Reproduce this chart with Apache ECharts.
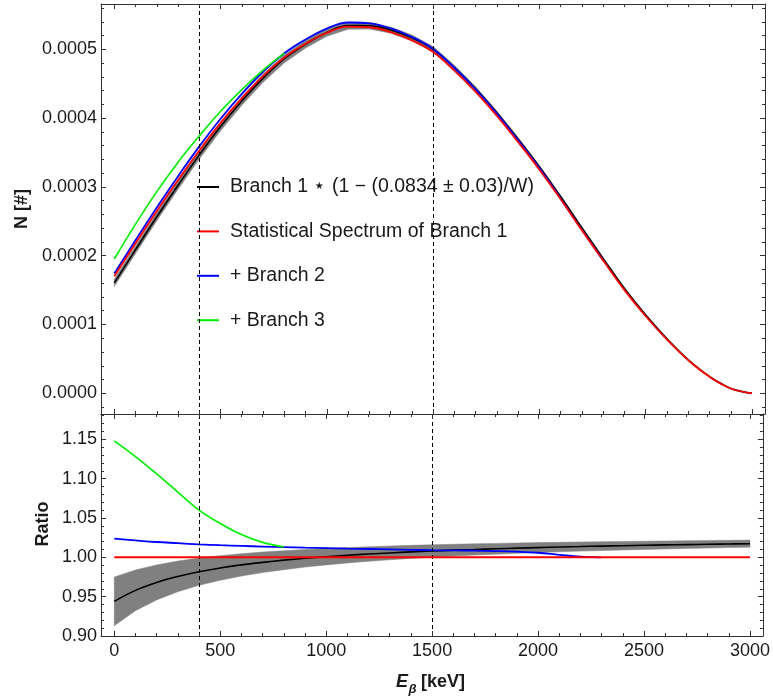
<!DOCTYPE html>
<html><head><meta charset="utf-8">
<script src="https://cdn.jsdelivr.net/npm/echarts/dist/echarts.min.js"></script>
<style>html,body{margin:0;padding:0;background:#fff}#c{width:773px;height:697px}</style>
</head><body><div id="c"></div>
<script>
// ---- data ----
const energy = [0,100,200,300,400,500,600,700,800,900,1000,1100,1200,1300,1400,1500,1600,1700,1800,1900,2000,2100,2200,2300,2400,2500,2600,2700,2800,2900,3000];
// statistical spectrum of branch 1, N [#]
const spectrumBranch1 = [0.000170,0.000218,0.000265,0.000310,0.000353,0.000393,0.000429,0.000461,0.000488,0.000508,0.000524,0.000533,0.000532,0.000525,0.000513,0.000496,0.000469,0.000438,0.000403,0.000365,0.000325,0.000282,0.000237,0.000193,0.000150,0.000112,0.000078,0.000048,0.000024,0.000007,0.000000];
// ratio of "+ Branch 2" to statistical spectrum (E = 0..2300)
const ratioBranch2 = [1.0237,1.0215,1.0195,1.0180,1.0165,1.0154,1.0145,1.0137,1.0130,1.0123,1.0117,1.0111,1.0106,1.0101,1.0096,1.0091,1.0088,1.0085,1.0080,1.0072,1.0058,1.0032,1.0008,1.0000];
// ratio of "+ Branch 3" (E = 0..800)
const ratioBranch3 = [1.148,1.128,1.106,1.083,1.060,1.043,1.029,1.019,1.0133];
// ratio of corrected branch 1 (central, lower, upper)
const ratioCorr = [0.9440,0.9580,0.9681,0.9757,0.9817,0.9865,0.9904,0.9936,0.9964,0.9988,1.0008,1.0026,1.0042,1.0056,1.0069,1.0080,1.0091,1.0100,1.0109,1.0117,1.0124,1.0131,1.0137,1.0143,1.0148,1.0153,1.0158,1.0162,1.0166,1.0170,1.0173];
const ratioCorrLow = [0.9131,0.9322,0.9459,0.9563,0.9644,0.9708,0.9762,0.9806,0.9843,0.9876,0.9904,0.9928,0.9950,0.9969,0.9986,1.0002,1.0016,1.0029,1.0040,1.0051,1.0061,1.0070,1.0079,1.0086,1.0094,1.0100,1.0107,1.0113,1.0118,1.0124,1.0129];
const ratioCorrHigh = [0.9749,0.9839,0.9903,0.9952,0.9990,1.0021,1.0046,1.0067,1.0084,1.0099,1.0113,1.0124,1.0134,1.0143,1.0152,1.0159,1.0166,1.0172,1.0177,1.0182,1.0187,1.0191,1.0195,1.0199,1.0202,1.0205,1.0208,1.0211,1.0214,1.0216,1.0219];
const xTicks = [0,500,1000,1500,2000,2500,3000];
const yTopTicks = [0,0.0001,0.0002,0.0003,0.0004,0.0005];
const yRatioTicks = [0.90,0.95,1.00,1.05,1.10,1.15];
const dashedE = [400,1500];
const names = ['Branch 1 \u22C6 (1 \u2212 (0.0834 \u00B1 0.03)/W)','Statistical Spectrum of Branch 1','+ Branch 2','+ Branch 3'];

// ---- layout ----
const X_MIN=-62.6, X_MAX=3061, YT_MIN=-0.0000301, YT_MAX=0.0005658, R_MIN=0.90, R_MAX=1.1822;
const FRAME='#333', TXT='#1a1a1a', FONT='Liberation Sans, Arial, sans-serif';
const xMinor=[]; for(let k=0;k<=30;k++) xMinor.push(k*100);
const yTopMinor=[]; for(let k=-1;k<=28;k++) yTopMinor.push(+(k*0.00002).toFixed(6));
const yRatioMinor=[]; for(let k=0;k<=28;k++) yRatioMinor.push(+(0.90+k*0.01).toFixed(2));

function axis(type, grid, pos, min, max, vals, len, showLine, labelOpt){
  return {type:'value', gridIndex:grid, position:pos, min:min, max:max,
    axisLine:{show:showLine, onZero:false, lineStyle:{color:FRAME,width:1}},
    axisTick:{show:true, inside:true, length:len, customValues:vals, lineStyle:{color:FRAME,width:1}},
    axisLabel:Object.assign({show:false, customValues:vals}, labelOpt||{}),
    splitLine:{show:false}, minorTick:{show:false}, z:10};
}
const lab = (fmt, margin)=>({show:true, margin:margin, fontSize:18, color:TXT, fontFamily:FONT, formatter:fmt});

const xAxes=[], yAxes=[];
for (const g of [0,1]) {
  xAxes.push(axis('x',g,'bottom',X_MIN,X_MAX,xTicks,5,true, g===1?lab(v=>String(Math.round(v)),6):null));
  xAxes.push(axis('x',g,'bottom',X_MIN,X_MAX,xMinor,3,false));
  xAxes.push(axis('x',g,'top',X_MIN,X_MAX,xTicks,5,true));
  xAxes.push(axis('x',g,'top',X_MIN,X_MAX,xMinor,3,false));
}
yAxes.push(axis('y',0,'left',YT_MIN,YT_MAX,yTopTicks,5,true,lab(v=>v.toFixed(4),4)));
yAxes.push(axis('y',0,'left',YT_MIN,YT_MAX,yTopMinor,3,false));
yAxes.push(axis('y',0,'right',YT_MIN,YT_MAX,yTopTicks,5,true));
yAxes.push(axis('y',0,'right',YT_MIN,YT_MAX,yTopMinor,3,false));
yAxes.push(axis('y',1,'left',R_MIN,R_MAX,yRatioTicks,5,true,lab(v=>v.toFixed(2),4)));
yAxes.push(axis('y',1,'left',R_MIN,R_MAX,yRatioMinor,3,false));
yAxes.push(axis('y',1,'right',R_MIN,R_MAX,yRatioTicks,5,true));
yAxes.push(axis('y',1,'right',R_MIN,R_MAX,yRatioMinor,3,false));

const pairs = (xs, ys)=>ys.map((y,i)=>[xs[i], y]);
function line(name, g, data, color, width, z, extra){
  return Object.assign({type:'line', name:name, xAxisIndex:g*4, yAxisIndex:g*4, data:data,
    showSymbol:false, symbol:'none', smooth:0.4, z:z, animation:false,
    lineStyle:{color:color,width:width}, itemStyle:{color:color}}, extra||{});
}
// uncertainty band drawn as a polygon through the axes' coordinate system
function band(name, g, lo, hi){
  return {type:'custom', name:name, xAxisIndex:g*4, yAxisIndex:g*4, z:1, animation:false, silent:true,
    data: energy.map((e,i)=>[e, lo[i], hi[i]]),
    renderItem: function(params, api){
      if (params.dataIndex !== 0) return;
      const pts=[];
      for (let i=0;i<energy.length;i++) pts.push(api.coord([energy[i], hi[i]]));
      for (let i=energy.length-1;i>=0;i--) pts.push(api.coord([energy[i], lo[i]]));
      const cs = params.coordSys;
      return {type:'polygon', shape:{points:pts}, style:{fill:'#808080', stroke:'#808080', lineWidth:0.5},
        clipPath:{type:'rect', shape:{x:cs.x, y:cs.y, width:cs.width, height:cs.height}}};
    }};
}
const dashMark = {silent:true, symbol:'none', label:{show:false},
  lineStyle:{color:'#000',type:[4,3],width:1}, data:dashedE.map(e=>({xAxis:e}))};

const series=[];
// top panel
series.push(band('bandTop',0, spectrumBranch1.map((s,i)=>s*ratioCorrLow[i]), spectrumBranch1.map((s,i)=>s*ratioCorrHigh[i])));
series.push(line(names[0],0,pairs(energy,spectrumBranch1.map((s,i)=>s*ratioCorr[i])),'#000',1.6,2));
series.push(line(names[2],0,pairs(energy,ratioBranch2.map((r,i)=>spectrumBranch1[i]*r)),'#0000ff',1.8,3));
series.push(line(names[3],0,pairs(energy,ratioBranch3.map((r,i)=>spectrumBranch1[i]*r)),'#00ee00',1.6,4));
series.push(line(names[1],0,pairs(energy,spectrumBranch1),'#ff0000',1.8,5,{markLine:dashMark}));
// ratio panel
series.push(band('bandR',1, ratioCorrLow, ratioCorrHigh));
series.push(line(names[0],1,pairs(energy,ratioCorr),'#000',1.6,2));
series.push(line(names[2],1,pairs(energy,ratioBranch2),'#0000ff',1.8,3));
series.push(line(names[3],1,pairs(energy,ratioBranch3),'#00ee00',1.6,4));
series.push(line(names[1],1,energy.map(e=>[e,1.0]),'#ff0000',2,5,{markLine:dashMark}));

const chart = echarts.init(document.getElementById('c'), null, {renderer:'canvas'});
chart.setOption({
  backgroundColor:'#fff', animation:false,
  grid:[{left:101,top:4,width:664,height:410},{left:101,top:414,width:664,height:222}],
  xAxis:xAxes, yAxis:yAxes, series:series,
  legend:{data:names, orient:'vertical', left:197, top:177, padding:0, icon:'rect',
    itemWidth:22, itemHeight:2, itemGap:24.4, selectedMode:false,
    textStyle:{fontSize:19.5, fontFamily:FONT, color:TXT, lineHeight:20, padding:[0,0,0,6]}},
  graphic:[
    {type:'text', x:22, y:209, rotation:Math.PI/2, style:{text:'N [#]', font:'bold 18px '+FONT, fill:TXT, align:'center', verticalAlign:'middle'}},
    {type:'text', x:43, y:524, rotation:Math.PI/2, style:{text:'Ratio', font:'bold 18px '+FONT, fill:TXT, align:'center', verticalAlign:'middle'}},
    {type:'text', x:396, y:682, style:{text:'E', font:'italic bold 18px '+FONT, fill:TXT, align:'left', verticalAlign:'middle'}},
    {type:'text', x:408.5, y:689, style:{text:'\u03B2', font:'italic bold 13px '+FONT, fill:TXT, align:'left', verticalAlign:'middle'}},
    {type:'text', x:421, y:682, style:{text:'[keV]', font:'bold 18px '+FONT, fill:TXT, align:'left', verticalAlign:'middle'}}
  ]
});
</script></body></html>
